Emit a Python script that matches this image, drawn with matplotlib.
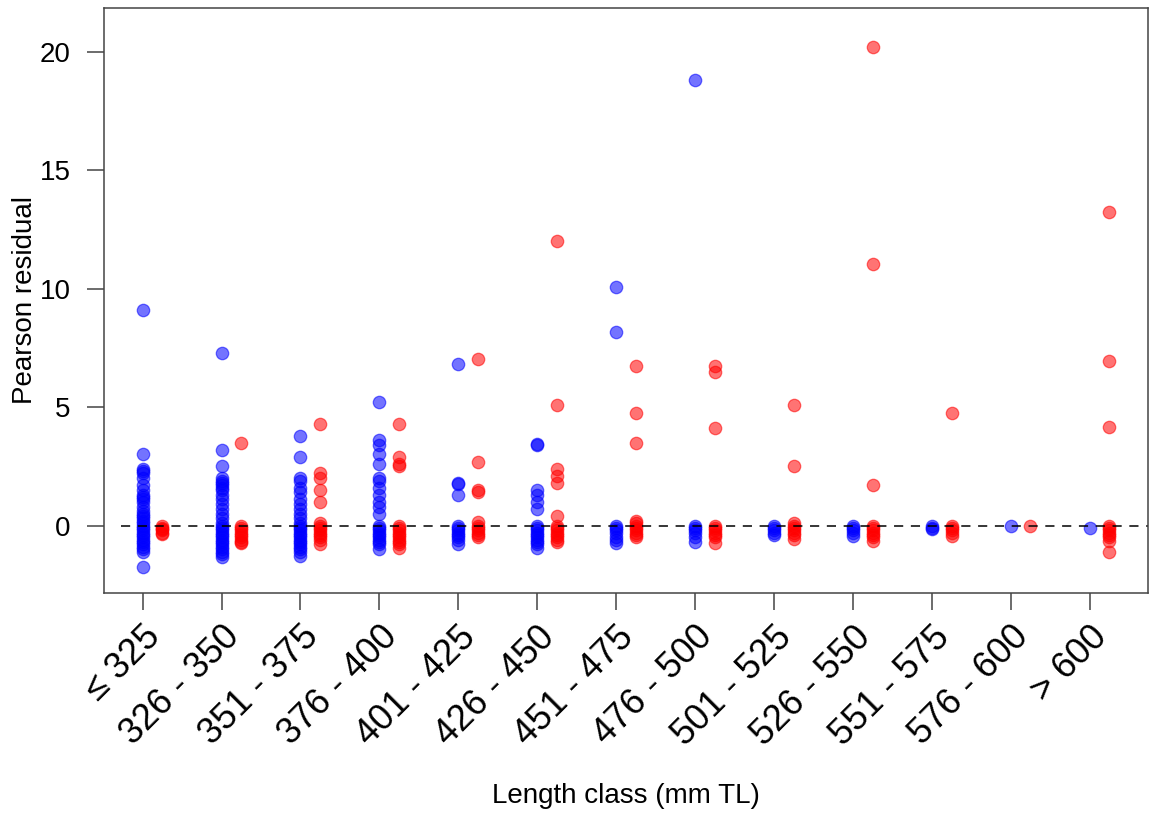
import matplotlib
matplotlib.use("Agg")
import matplotlib.pyplot as plt
import matplotlib.transforms as mtransforms
import numpy as np

plt.rcParams['font.family'] = ['Liberation Sans', 'DejaVu Sans']

# length classes (mm TL)
classes = ["≤ 325", "326 - 350", "351 - 375", "376 - 400", "401 - 425", "426 - 450",
           "451 - 475", "476 - 500", "501 - 525", "526 - 550", "551 - 575", "576 - 600", "> 600"]

# Pearson residuals per class (blue series)
blue_res = [
    [9.1, 3.0, 2.4, 2.3, 2.2, 2.0, 1.7, 1.5, 1.3, 1.2, 1.1, 1.0, 0.8, 0.6, 0.5, 0.4, 0.3, 0.2, 0.1,
     0.0, -0.1, -0.2, -0.3, -0.4, -0.5, -0.6, -0.7, -0.8, -0.9, -1.0, -1.1, -1.75],
    [7.3, 3.2, 2.5, 2.0, 1.9, 1.8, 1.7, 1.6, 1.5, 1.3, 1.1, 0.9, 0.7, 0.5, 0.3, 0.1, 0.0,
     -0.1, -0.2, -0.3, -0.4, -0.5, -0.6, -0.7, -0.8, -0.9, -1.0, -1.1, -1.2, -1.35],
    [3.8, 2.9, 2.0, 1.9, 1.6, 1.4, 1.1, 0.9, 0.7, 0.5, 0.3, 0.1, 0.0, -0.1, -0.2, -0.3, -0.4,
     -0.5, -0.6, -0.7, -0.8, -0.9, -1.0, -1.1, -1.3],
    [5.2, 3.6, 3.4, 3.0, 2.6, 2.0, 1.9, 1.6, 1.3, 1.0, 0.8, 0.5, 0.0, -0.1, -0.2, -0.3, -0.4,
     -0.5, -0.6, -0.7, -0.8, -1.0],
    [6.8, 1.8, 1.75, 1.3, 0.0, -0.1, -0.2, -0.3, -0.4, -0.5, -0.6, -0.8],
    [3.45, 3.4, 1.5, 1.3, 1.0, 0.7, 0.0, -0.1, -0.2, -0.3, -0.4, -0.5, -0.6, -0.7, -0.8, -0.95],
    [10.05, 8.15, 0.0, -0.1, -0.2, -0.3, -0.5, -0.6, -0.75],
    [18.8, 0.0, -0.1, -0.2, -0.3, -0.5, -0.7],
    [0.0, -0.1, -0.2, -0.3, -0.4],
    [0.0, -0.1, -0.2, -0.3, -0.45],
    [0.0, -0.1, -0.15],
    [0.0],
    [-0.1],
]

# Pearson residuals per class (red series)
red_res = [
    [0.0, -0.1, -0.15, -0.2, -0.3, -0.35],
    [3.5, 0.0, -0.1, -0.2, -0.3, -0.4, -0.5, -0.6, -0.7, -0.75],
    [4.3, 2.2, 2.0, 1.5, 1.0, 0.1, 0.0, -0.1, -0.2, -0.3, -0.4, -0.5, -0.6, -0.8],
    [4.3, 2.9, 2.6, 2.5, 0.0, -0.1, -0.2, -0.3, -0.4, -0.5, -0.6, -0.7, -0.8, -0.95],
    [7.05, 2.7, 1.5, 1.4, 0.15, 0.0, -0.1, -0.2, -0.3, -0.4, -0.5],
    [12.0, 5.1, 2.4, 2.1, 1.8, 0.4, 0.0, -0.1, -0.2, -0.3, -0.4, -0.5, -0.6, -0.7],
    [6.75, 4.75, 3.5, 0.2, 0.1, 0.0, -0.1, -0.2, -0.3, -0.4, -0.5],
    [6.75, 6.5, 4.1, 0.0, -0.1, -0.2, -0.3, -0.4, -0.5, -0.75],
    [5.1, 2.5, 0.1, 0.0, -0.1, -0.2, -0.3, -0.4, -0.55],
    [20.2, 11.05, 1.7, 0.0, -0.1, -0.2, -0.3, -0.4, -0.5, -0.65],
    [4.75, 0.0, -0.1, -0.2, -0.3, -0.45],
    [0.0],
    [13.25, 6.95, 4.15, 0.0, -0.1, -0.2, -0.3, -0.4, -0.5, -0.65, -1.1],
]

fig = plt.figure(figsize=(11.59, 8.19), dpi=100)
ax = fig.add_axes([104 / 1159, 1 - 593 / 819, (1148 - 104) / 1159, (593 - 8) / 819])

for i, (b, r) in enumerate(zip(blue_res, red_res)):
    pos = i + 1
    ax.scatter(np.full(len(b), pos), b, s=80, color='blue', alpha=0.55, linewidths=0.9)
    ax.scatter(np.full(len(r), pos + 0.25), r, s=80, color='red', alpha=0.55, linewidths=0.9)

ax.plot([0.73, 13.75], [0, 0], color='black', lw=1.1, linestyle=(0, (6, 5)))

ax.set_xlim(0.51, 13.74)
ax.set_ylim(-2.85, 21.85)

ax.set_yticks([0, 5, 10, 15, 20])
ax.set_xticks(np.arange(1, len(classes) + 1))
ax.set_xticklabels(classes, rotation=45, ha='right', rotation_mode='anchor', fontsize=26)
offset = mtransforms.ScaledTranslation(9 / 100, 0, fig.dpi_scale_trans)
for lab in ax.get_xticklabels():
    lab.set_transform(lab.get_transform() + offset)

ax.tick_params(axis='both', length=12, width=1.1, color='#444444', direction='out')
ax.tick_params(axis='x', pad=7)
ax.tick_params(axis='y', labelsize=20, pad=12)

for sp in ax.spines.values():
    sp.set_color('#444444')
    sp.set_linewidth(1.1)

ax.set_ylabel('Pearson residual', fontsize=20, labelpad=1)
ax.set_xlabel('Length class (mm TL)', fontsize=20)
ax.xaxis.set_label_coords(0.5, -0.325)

fig.savefig('out.png', dpi=100)
